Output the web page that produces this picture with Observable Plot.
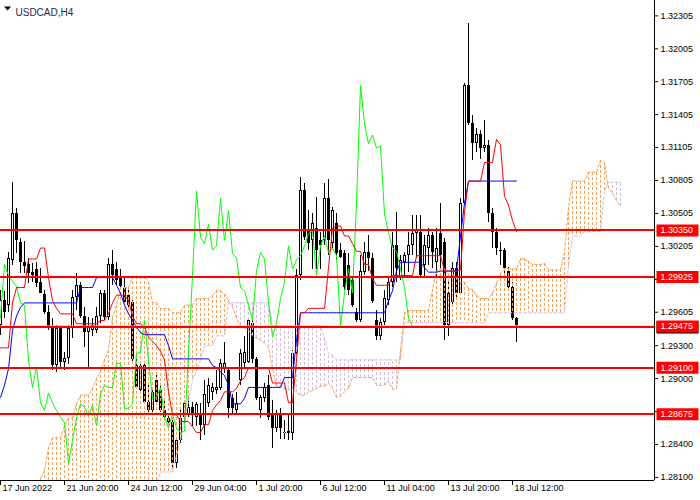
<!DOCTYPE html>
<html><head><meta charset="utf-8">
<script src="https://cdn.jsdelivr.net/npm/d3@7"></script>
<script src="https://cdn.jsdelivr.net/npm/@observablehq/plot@0.6"></script>
<style>
html,body{margin:0;padding:0;background:#fff;}
#chart{width:700px;height:500px;overflow:hidden;}
</style></head>
<body><div id="chart"></div>
<script>
// ---- data (USDCAD, H4) ----
const opens = [1.2948,1.2971,1.2967,1.3008,1.3050,1.3024,1.3006,1.3004,1.2997,1.2999,
1.2988,1.2977,1.2960,1.2947,1.2912,1.2946,1.2915,1.2918,1.2946,1.2974,
1.2985,1.2957,1.2942,1.2944,1.2944,1.2957,1.2978,1.2956,1.3004,1.2999,
1.2991,1.2982,1.2976,1.2969,1.2912,1.2889,1.2912,1.2878,1.2871,1.2898,
1.2889,1.2871,1.2864,1.2860,1.2823,1.2844,1.2865,1.2866,1.2874,1.2865,
1.2868,1.2857,1.2877,1.2887,1.2889,1.2891,1.2909,1.2907,1.2882,1.2871,
1.2898,1.2914,1.2915,1.2950,1.2917,1.2871,1.2882,1.2894,1.2866,1.2855,
1.2868,1.2850,1.2850,1.2850,1.2923,1.2994,1.3071,1.3035,1.3026,1.3037,
1.3026,1.3026,1.3064,1.3023,1.3041,1.3017,1.3014,1.3003,1.2989,1.2960,
1.2953,1.2997,1.3015,1.3009,1.2953,1.2938,1.2951,1.2971,1.2988,1.3021,
1.2991,1.3006,1.3012,1.3021,1.3032,1.3033,1.3003,1.3019,1.3030,1.3006,
1.3032,1.3024,1.2948,1.2969,1.3000,1.2978,1.3060,1.3167,1.3132,1.3114,
1.3122,1.3110,1.3112,1.3050,1.3033,1.3017,1.3017,1.2998,1.2983,1.2955];
const highs = [1.2980,1.2979,1.3015,1.3079,1.3055,1.3028,1.3025,1.3009,1.3005,1.3006,
1.3000,1.2980,1.2967,1.2955,1.2948,1.2947,1.2924,1.2948,1.2980,1.2996,
1.2988,1.2965,1.2956,1.2955,1.2965,1.2980,1.2980,1.3009,1.3017,1.3006,
1.2999,1.2992,1.2980,1.2971,1.2917,1.2915,1.2915,1.2896,1.2891,1.2903,
1.2894,1.2880,1.2868,1.2865,1.2844,1.2871,1.2878,1.2883,1.2878,1.2878,
1.2877,1.2898,1.2900,1.2896,1.2907,1.2917,1.2933,1.2910,1.2886,1.2887,
1.2927,1.2938,1.2956,1.2953,1.2919,1.2885,1.2896,1.2903,1.2880,1.2871,
1.2873,1.2862,1.2866,1.2926,1.2999,1.3083,1.3078,1.3053,1.3050,1.3065,
1.3033,1.3078,1.3081,1.3056,1.3050,1.3023,1.3017,1.3014,1.2992,1.2964,
1.3012,1.3024,1.3030,1.3014,1.2962,1.2955,1.2980,1.2991,1.3033,1.3051,
1.3012,1.3015,1.3033,1.3049,1.3049,1.3049,1.3030,1.3037,1.3033,1.3037,
1.3060,1.3028,1.2988,1.3006,1.3006,1.3064,1.3169,1.3224,1.3140,1.3128,
1.3126,1.3135,1.3117,1.3055,1.3037,1.3024,1.3019,1.3001,1.2988,1.2956];
const lows = [1.2939,1.2955,1.2960,1.3003,1.3014,1.2996,1.2996,1.2987,1.2988,1.2983,
1.2978,1.2958,1.2944,1.2907,1.2906,1.2909,1.2907,1.2913,1.2937,1.2962,
1.2955,1.2928,1.2910,1.2938,1.2941,1.2950,1.2953,1.2953,1.2985,1.2985,
1.2980,1.2968,1.2964,1.2915,1.2891,1.2886,1.2877,1.2868,1.2869,1.2876,
1.2869,1.2862,1.2859,1.2819,1.2818,1.2841,1.2859,1.2865,1.2856,1.2856,
1.2844,1.2848,1.2874,1.2880,1.2886,1.2889,1.2905,1.2864,1.2868,1.2868,
1.2894,1.2910,1.2914,1.2914,1.2880,1.2864,1.2878,1.2862,1.2836,1.2851,
1.2845,1.2845,1.2844,1.2844,1.2919,1.2989,1.3026,1.3017,1.2999,1.2999,
1.2999,1.3021,1.3012,1.3019,1.3008,1.3009,1.2980,1.2976,1.2965,1.2951,
1.2951,1.2994,1.2998,1.2968,1.2935,1.2935,1.2948,1.2967,1.2983,1.2988,
1.2989,1.2991,1.2997,1.3012,1.3009,1.2991,1.2992,1.3003,1.3000,1.2992,
1.3000,1.2935,1.2938,1.2967,1.2973,1.2976,1.3058,1.3131,1.3099,1.3106,
1.3100,1.3106,1.3042,1.3019,1.3012,1.3003,1.2991,1.2980,1.2953,1.2933];
const closes = [1.2971,1.2960,1.3009,1.3050,1.3026,1.3006,1.3002,1.2996,1.2994,1.2987,
1.2978,1.2960,1.2947,1.2912,1.2946,1.2915,1.2918,1.2946,1.2974,1.2985,
1.2957,1.2942,1.2947,1.2948,1.2957,1.2978,1.2956,1.3004,1.2994,1.2989,
1.2984,1.2969,1.2967,1.2917,1.2892,1.2911,1.2878,1.2871,1.2887,1.2878,
1.2871,1.2865,1.2860,1.2823,1.2844,1.2864,1.2877,1.2874,1.2866,1.2876,
1.2857,1.2886,1.2894,1.2892,1.2892,1.2914,1.2914,1.2873,1.2873,1.2877,
1.2923,1.2924,1.2953,1.2917,1.2882,1.2883,1.2892,1.2865,1.2855,1.2868,
1.2855,1.2851,1.2852,1.2923,1.2994,1.3071,1.3029,1.3023,1.3041,1.3017,
1.3021,1.3064,1.3026,1.3053,1.3014,1.3010,1.2983,1.2980,1.2967,1.2953,
1.2998,1.3015,1.3009,1.2970,1.2938,1.2951,1.2973,1.2988,1.3021,1.3000,
1.3008,1.3012,1.3021,1.3032,1.3035,1.2994,1.3021,1.3030,1.3015,1.3019,
1.3012,1.2948,1.2978,1.3000,1.2978,1.3060,1.3167,1.3132,1.3114,1.3122,
1.3110,1.3112,1.3050,1.3033,1.3019,1.3016,1.3000,1.2983,1.2955,1.2948];

// Ichimoku lines read as [bar, price] steps
const tenkan = [[0,1.2928],[3,1.2969],[4,1.2983],[7,1.3009],[10,1.3019],[12,1.2992],[13,1.2971],[14,1.2964],[15,1.2959],[19,1.2950],[25,1.2953],[27,1.2959],[28,1.2969],[29,1.2976],[32,1.2971],[33,1.2957],[34,1.2950],[36,1.2947],[37,1.2938],[38,1.2934],[39,1.2930],[40,1.2925],[41,1.2917],[42,1.2888],[43,1.2867],[45,1.2861],[48,1.2856],[49,1.2851],[51,1.2858],[53,1.2871],[54,1.2876],[55,1.2880],[56,1.2888],[59,1.2891],[60,1.2898],[61,1.2901],[62,1.2910],[68,1.2896],[72,1.2878],[74,1.2917],[75,1.2960],[77,1.2964],[82,1.3001],[83,1.3037],[84,1.3039],[86,1.3030],[88,1.3023],[89,1.3016],[91,1.3004],[93,1.2991],[94,1.2985],[98,1.2994],[104,1.3012],[111,1.2998],[115,1.2999],[116,1.3052],[117,1.3080],[121,1.3097],[124,1.3118],[125,1.3113],[126,1.3066],[127,1.3058],[128,1.3044],[129,1.3034]];
const kijun = [[0,1.2883],[1,1.2894],[2,1.2909],[3,1.2944],[4,1.2957],[5,1.2965],[6,1.2969],[20,1.2983],[24,1.2992],[29,1.2985],[30,1.2978],[31,1.2967],[32,1.2959],[33,1.2953],[34,1.2947],[35,1.2942],[36,1.2940],[42,1.2930],[43,1.2918],[53,1.2912],[54,1.2910],[55,1.2906],[56,1.2903],[57,1.2894],[58,1.2877],[61,1.2882],[62,1.2892],[71,1.2901],[74,1.2935],[75,1.2960],[97,1.2971],[98,1.2980],[99,1.2998],[100,1.3006],[106,1.3001],[107,1.2997],[110,1.2998],[115,1.3030],[116,1.3060],[117,1.3080]];
const spanA = [[10,1.2809],[11,1.2816],[12,1.2837],[13,1.2846],[16,1.2857],[17,1.2864],[19,1.2877],[20,1.2885],[23,1.2891],[24,1.2900],[25,1.2907],[26,1.2917],[27,1.2926],[28,1.2956],[29,1.2967],[30,1.2983],[33,1.2993],[37,1.2988],[38,1.2969],[40,1.2964],[43,1.2960],[46,1.2967],[49,1.2973],[53,1.2976],[54,1.2980],[56,1.2977],[57,1.2971],[58,1.2965],[59,1.2955],[60,1.2948],[61,1.2946],[62,1.2944],[63,1.2939],[64,1.2937],[65,1.2935],[66,1.2932],[67,1.2928],[68,1.2909],[69,1.2893],[71,1.2890],[74,1.2887],[75,1.2885],[77,1.2888],[78,1.2889],[79,1.2891],[80,1.2893],[82,1.2896],[83,1.2891],[84,1.2883],[85,1.2884],[86,1.2888],[87,1.2891],[88,1.2901],[94,1.2894],[97,1.2898],[98,1.2890],[99,1.2891],[100,1.2926],[101,1.2960],[102,1.2962],[108,1.2981],[109,1.2998],[110,1.3000],[112,1.2995],[114,1.2992],[115,1.2988],[117,1.2982],[118,1.2981],[119,1.2976],[120,1.2973],[123,1.2978],[124,1.2987],[125,1.2996],[126,1.3000],[130,1.3009],[132,1.3007],[133,1.3004],[136,1.3005],[137,1.2999],[141,1.3015],[142,1.3056],[143,1.3080],[147,1.3088],[150,1.3099],[151,1.3097],[152,1.3073],[153,1.3069],[154,1.3062],[155,1.3057]];
const spanB = [[10,1.2803],[40,1.2815],[44,1.2830],[45,1.2844],[46,1.2862],[47,1.2880],[48,1.2898],[49,1.2907],[50,1.2917],[51,1.2930],[54,1.2939],[57,1.2969],[68,1.2948],[81,1.2937],[82,1.2923],[83,1.2921],[84,1.2917],[101,1.2951],[122,1.2960],[142,1.3003],[143,1.3030],[146,1.3034],[151,1.3071],[152,1.3079]];
const chikouShift = 26;
const cloudEnd = 155;

const levels = [1.30350, 1.29925, 1.29475, 1.29100, 1.28675];
const priceTicks = [1.32305,1.32005,1.31705,1.31405,1.31105,1.30805,1.30505,1.30205,1.29905,1.29605,1.29300,1.29000,1.28700,1.28400,1.28100];
const timeTickBars = [0,16,32,48,64,80,96,112,128];
const timeLabels = ["17 Jun 2022","21 Jun 20:00","24 Jun 12:00","29 Jun 04:00","1 Jul 20:00","6 Jul 12:00","11 Jul 04:00","13 Jul 20:00","18 Jul 12:00"];
const title = "USDCAD,H4";
const yDomain = [1.28072, 1.32445];
const xDomain = [0, 163.5];

// ---- build tables ----
function expand(bp, last) {
  const out = []; let k = 0;
  for (let i = bp[0][0]; i <= last; i++) {
    while (k + 1 < bp.length && bp[k + 1][0] <= i) k++;
    out.push({i, v: bp[k][1]});
  }
  return out;
}
const lastBar = closes.length - 1;
const bars = opens.map((o, i) => ({i, o, h: highs[i], l: lows[i], c: closes[i]}));
const chikou = closes.map((c, i) => ({i: i - chikouShift, v: c})).filter(d => d.i >= 0);
const aPts = expand(spanA, cloudEnd), bPts = expand(spanB, cloudEnd);
const cloud = aPts.map((d, k) => ({i: d.i, a: d.v, b: bPts[k].v}));
const lastClose = closes[lastBar];
// tick labels that sit under a level's price box are covered in the reference
const shownTicks = priceTicks.filter(t => levels.every(l => Math.abs(l - t) > 0.0007));

const boxSym = {draw(ctx) { ctx.rect(-21, -6, 42, 12); }};
const bidSym = {draw(ctx) { ctx.rect(-21, -5, 42, 12.5); }};
const triSym = {draw(ctx) { ctx.moveTo(-3.5, -2); ctx.lineTo(3.5, -2); ctx.lineTo(0, 2); ctx.closePath(); }};
const font = "'Liberation Sans', Arial, sans-serif";

const chart = Plot.plot({
  width: 700, height: 500,
  marginLeft: 0, marginRight: 46, marginTop: 0, marginBottom: 20,
  x: {type: "linear", domain: xDomain, axis: null},
  y: {type: "linear", domain: yDomain, axis: null},
  style: {background: "white", fontFamily: font, fontSize: "9px", color: "black", overflow: "visible"},
  marks: [
    // candles
    Plot.ruleX(bars, {x: "i", y1: "l", y2: "h", stroke: "black", strokeWidth: 1, shapeRendering: "crispEdges"}),
    Plot.ruleX(bars, {x: "i", y1: "o", y2: "c", stroke: "black", strokeWidth: 3, shapeRendering: "crispEdges"}),
    Plot.ruleX(bars.filter(d => d.c > d.o), {x: "i", y1: "c", y2: "o", stroke: "white", strokeWidth: 1, insetTop: 1, insetBottom: 1, shapeRendering: "crispEdges"}),
    // kumo hatching
    Plot.ruleX(cloud.filter(d => d.a >= d.b), {x: "i", y1: "a", y2: "b", stroke: "#f4a460", strokeWidth: 1, strokeDasharray: "3,2", clip: true, shapeRendering: "crispEdges"}),
    Plot.ruleX(cloud.filter(d => d.a < d.b), {x: "i", y1: "a", y2: "b", stroke: "#d8bfd8", strokeWidth: 1, strokeDasharray: "3,2", clip: true, shapeRendering: "crispEdges"}),
    Plot.line(aPts, {x: "i", y: "v", stroke: "#f4a460", strokeWidth: 1, strokeDasharray: "3,2", clip: true}),
    Plot.line(bPts, {x: "i", y: "v", stroke: "#d8bfd8", strokeWidth: 1, strokeDasharray: "3,2", clip: true}),
    // chikou, kijun, tenkan
    Plot.line(chikou, {x: "i", y: "v", stroke: "#00ff00", strokeWidth: 1}),
    Plot.line(expand(kijun, lastBar), {x: "i", y: "v", stroke: "#0000ff", strokeWidth: 1}),
    Plot.line(expand(tenkan, lastBar), {x: "i", y: "v", stroke: "#ff0000", strokeWidth: 1}),
    // bid line + horizontal levels
    Plot.ruleY([lastClose], {stroke: "#c0c0c0", strokeWidth: 1}),
    Plot.ruleY(levels, {stroke: "#ff0000", strokeWidth: 2, shapeRendering: "crispEdges"}),
    // frame (right + bottom)
    Plot.ruleX([xDomain[1]], {stroke: "black", strokeWidth: 1}),
    Plot.ruleY([yDomain[0]], {stroke: "black", strokeWidth: 1}),
    // price axis
    Plot.ruleY(priceTicks, {x1: xDomain[1], x2: xDomain[1] + 1, stroke: "black", strokeWidth: 1}),
    Plot.text(shownTicks, {y: d => d, text: d => d.toFixed(5), frameAnchor: "right", dx: 6, textAnchor: "start", fontSize: 9, fill: "black"}),
    // time axis
    Plot.ruleX(timeTickBars, {x: d => d, y1: yDomain[0], y2: yDomain[0], insetBottom: -5, stroke: "black", strokeWidth: 1}),
    Plot.text(timeTickBars, {x: d => d, text: (d, i) => timeLabels[i], frameAnchor: "bottom", dy: 10, dx: 2, textAnchor: "start", fontSize: 9, fill: "black"}),
    // price labels of levels
    Plot.dot([lastClose], {y: d => d, frameAnchor: "right", dx: 23, symbol: bidSym, fill: "black", stroke: "none"}),
    Plot.dot(levels, {y: d => d, frameAnchor: "right", dx: 23, symbol: boxSym, fill: "#ff0000", stroke: "none"}),
    Plot.text(levels, {y: d => d, text: d => d.toFixed(5), frameAnchor: "right", dx: 6, textAnchor: "start", fontSize: 9, fill: "white"}),
    // title
    Plot.dot([title], {frameAnchor: "top-left", dx: 7, dy: 8, symbol: triSym, fill: "black", stroke: "none"}),
    Plot.text([title], {text: d => d, frameAnchor: "top-left", dx: 15, dy: 8.5, textAnchor: "start", fontSize: 10, fill: "#1c2b4f"})
  ]
});
document.getElementById("chart").appendChild(chart);
</script>
</body></html>
